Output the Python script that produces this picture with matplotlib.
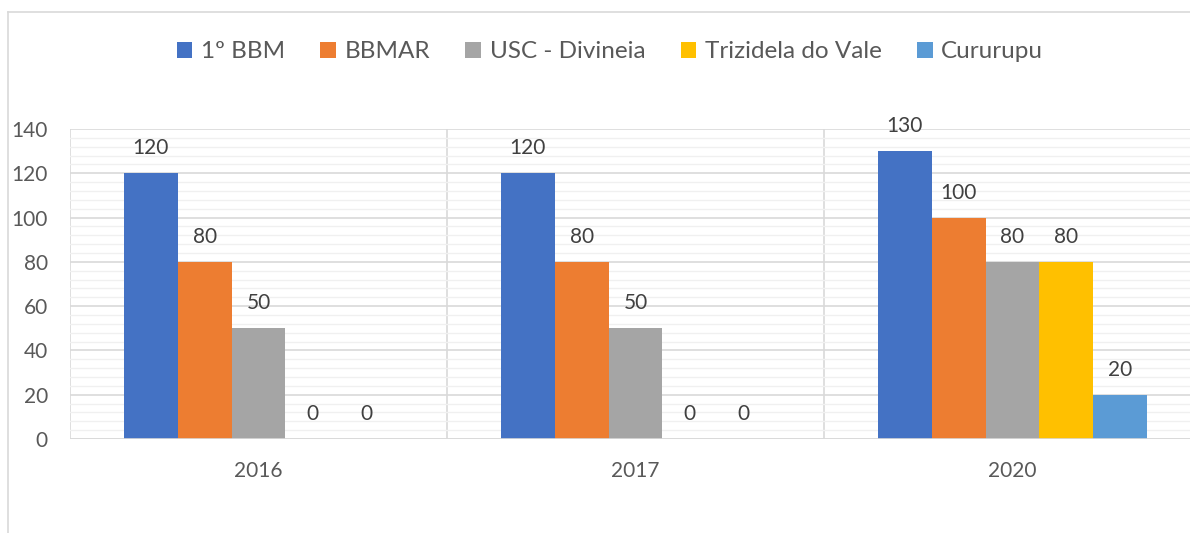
import matplotlib
matplotlib.use("Agg")
import matplotlib.pyplot as plt
from matplotlib.lines import Line2D
import numpy as np

plt.rcParams['font.family'] = ['Lato', 'DejaVu Sans']

years = ["2016", "2017", "2020"]
series = ["1º BBM", "BBMAR", "USC - Divineia", "Trizidela do Vale", "Cururupu"]
values = [
    [120, 120, 130],
    [80, 80, 100],
    [50, 50, 80],
    [0, 0, 80],
    [0, 0, 20],
]
colors = ["#4472C4", "#ED7D31", "#A5A5A5", "#FFC000", "#5B9BD5"]

W, H = 1190, 533
fig = plt.figure(figsize=(W / 100, H / 100), dpi=100)
ax = fig.add_axes([70 / W, (H - 439) / H, (1201 - 70) / W, 310 / H])

x = np.arange(len(years))
bw = 0.143
text_col = "#595959"

for i, (name, vals) in enumerate(zip(series, values)):
    pos = x + (i - 2) * bw
    ax.bar(pos, vals, width=bw, color=colors[i], label=name, zorder=3)
    for px, v in zip(pos, vals):
        ax.annotate(str(v), (px, v), xytext=(0, 18), textcoords="offset points",
                    ha="center", va="center", fontsize=15, color="#404040")

ax.set_xlim(-0.5, 2.5)
ax.set_ylim(0, 140)
ax.set_yticks(range(0, 141, 20))
ax.set_yticks(range(0, 141, 4), minor=True)
ax.set_xticks(x)
ax.set_xticklabels(years)
ax.grid(axis="y", which="major", color="#D9D9D9", lw=1.2, zorder=1)
ax.grid(axis="y", which="minor", color="#F0F0F0", lw=1.0, zorder=0)
for b in [-0.5, 0.5, 1.5, 2.5]:
    ax.axvline(b, color="#D9D9D9", lw=1.2, zorder=1)
for s in ax.spines.values():
    s.set_visible(False)
ax.axhline(0, color="#D9D9D9", lw=1.2, zorder=4)
ax.tick_params(axis="both", which="both", length=0, labelsize=15, colors=text_col)
ax.tick_params(axis="y", pad=16)
ax.tick_params(axis="x", pad=16)

# outer chart frame (cropped on right and bottom)
fr = "#D9D9D9"
fig.add_artist(Line2D([8 / W, 1], [1 - 12 / H, 1 - 12 / H], color=fr, lw=1.2))
fig.add_artist(Line2D([8 / W, 8 / W], [0, 1 - 12 / H], color=fr, lw=1.2))

fig.legend(loc="center", bbox_to_anchor=(610 / W, 1 - 52 / H), ncol=5, frameon=False,
           fontsize=17.5, labelcolor=text_col, handlelength=0.65, handleheight=0.65,
           handletextpad=0.35, columnspacing=1.45)

fig.savefig("out.png", dpi=100)
